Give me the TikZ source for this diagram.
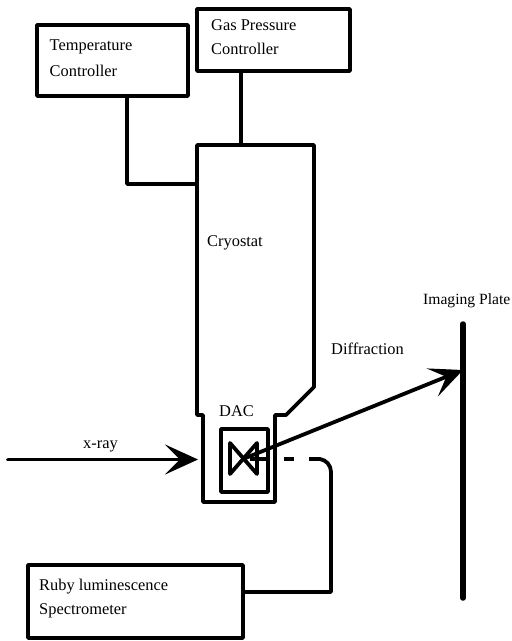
\documentclass[tikz,border=0pt]{standalone}
\usepackage{fontspec}
\setmainfont{Liberation Serif}
\usetikzlibrary{arrows.meta,calc}
\tikzset{
  box/.style={draw,line width=3.8pt,line join=round,minimum width=#1,inner sep=0pt,outer sep=0pt},
  wire/.style={line width=3.8pt,line join=round,line cap=round},
  lbl/.style={font=\fontsize{16.4}{16.4}\selectfont,inner sep=0pt,anchor=base west},
  lblsmall/.style={font=\fontsize{15.6}{15.6}\selectfont,inner sep=0pt,anchor=base west},
  head/.style={-{Stealth[length=33pt,width=30pt,inset=15pt]}}
}
\begin{document}
\begin{tikzpicture}[x=1pt,y=-1pt]
\useasboundingbox (0,0) rectangle (512,641);
% boxes
\node[box=151pt,minimum height=71pt,anchor=north west] (temp) at (37,25) {};
\node[box=153pt,minimum height=62pt,anchor=north west] (gas) at (197,9) {};
\node[box=215pt,minimum height=73pt,anchor=north west] (ruby) at (28,565) {};
\node[box=47pt,minimum height=63pt,anchor=north west] (dac) at (221,429) {};
% cryostat
\coordinate (ctl) at (197,145);
\coordinate (ctr) at (314,145);
\coordinate (cgas) at (241,145);
\coordinate (ctemp) at (197,184);
\draw[wire] (ctl) -- (ctr) -- (314,387) -- (286,415) -- (275,415) -- (275,502) -- (203,502) -- (203,415) -- (197,415) -- cycle;
% bowtie
\coordinate (btc) at (243,459);
\draw[wire] (230,443) -- (257,474) -- (257,443) -- (230,474) -- cycle;
% plate
\coordinate (pt) at (463,324);
\coordinate (pb) at (463,598);
\coordinate (phit) at (463,370);
\draw[wire,line width=5.5pt] (pt) -- (pb);
% connectors
\draw[wire] (gas.south west -| cgas) -- (cgas);
\draw[wire] (temp.south west -| 127,0) -- (127,184) -- (ctemp);
% beams
\coordinate (xs) at (8,459.5);
\coordinate (xe) at (198,459.5);
\draw[wire,head] (xs) -- (xe);
\draw[wire,head] (btc) -- (phit);
% ruby path
\draw[wire,line cap=butt] (250,459) -- (270,459);
\draw[wire,line cap=butt] (284,459) -- (294,459);
\draw[wire,line cap=butt] (309,459) -- (320,459) .. controls (326,460) and (331,465) .. (331,472) -- (331,592) -- (ruby.east |- 0,592);
% text
\node[lbl] (t1) at (49.5,50) {Temperature};
\node[lbl] (t2) at (49.5,76) {Controller};
\node[lbl] (g1) at (211,30) {Gas Pressure};
\node[lbl] (g2) at (211,54) {Controller};
\node[lbl] (c) at (207,246) {Cryostat};
\node[lbl] (d) at (219,416) {DAC};
\node[lbl] (x) at (83,448) {x-ray};
\node[lbl] (df) at (331,354) {Diffraction};
\node[lblsmall] (ip) at (423,304) {Imaging Plate};
\node[lbl] (r1) at (39,590) {Ruby luminescence};
\node[lbl] (r2) at (39,614) {Spectrometer};
\end{tikzpicture}
\end{document}
